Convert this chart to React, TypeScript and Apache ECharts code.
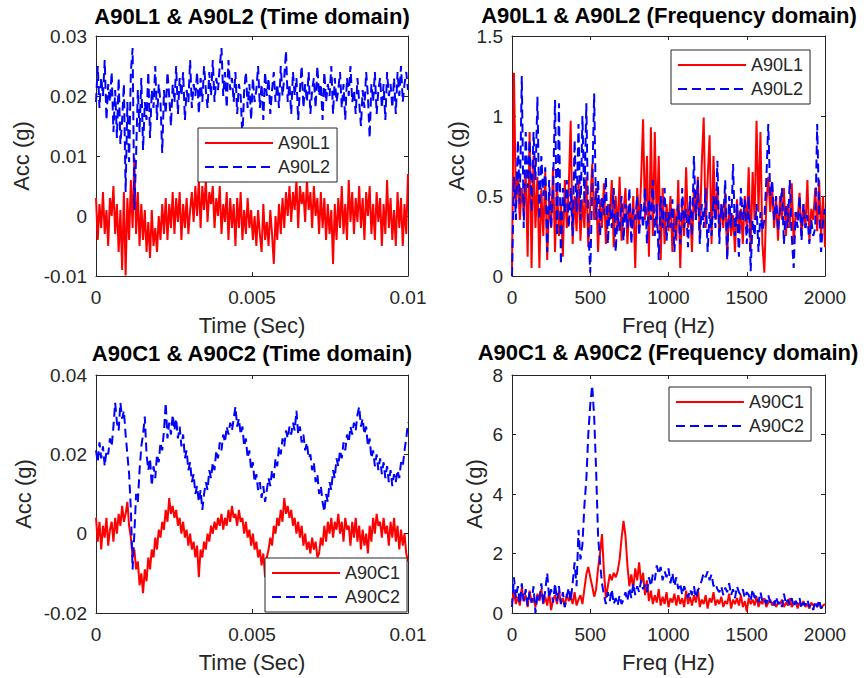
import React, { useEffect, useRef } from "react";
import * as echarts from "echarts";

// ---------- data ----------
const TIME_END = 0.01; // s
const FREQ_END = 2000; // Hz

const a90l1Time = [
  0.003, -0.004, 0.002, -0.002, 0.004, -0.003, 0.001, -0.005, 0.003, 0.0,
  0.005, -0.003, 0.002, -0.006, 0.001, -0.009, 0.004, -0.0099, 0.003, -0.004,
  0.006, -0.002, 0.0097, -0.003, 0.004, -0.005, 0.002, -0.004, 0.001, -0.006,
  -0.001, -0.007, 0.001, -0.005, -0.002, -0.006, 0.0, -0.004, 0.002, -0.003,
  0.003, -0.004, 0.002, -0.002, 0.004, -0.003, 0.003, -0.001, 0.004, -0.004,
  0.002, -0.002, 0.003, -0.003, 0.001, 0.004, -0.001, 0.005, 0.0, 0.006,
  -0.002, 0.005, 0.001, 0.006, -0.001, 0.004, 0.002, 0.005, -0.002, 0.003,
  0.0, 0.005, -0.003, 0.002, -0.001, 0.004, -0.004, 0.003, -0.002, 0.002,
  -0.005, 0.003, -0.002, 0.004, -0.004, 0.001, -0.003, 0.003, -0.002, 0.001,
  -0.004, 0.0, -0.005, 0.001, -0.003, -0.006, 0.002, -0.004, -0.001, -0.005,
  0.001, -0.003, -0.008, 0.0, -0.004, 0.002, -0.003, 0.003, -0.002, 0.004,
  0.0, 0.005, -0.001, 0.004, 0.001, 0.006, -0.002, 0.005, 0.002, 0.004,
  -0.001, 0.006, 0.001, 0.004, -0.002, 0.005, 0.0, 0.003, -0.003, 0.004,
  -0.002, 0.003, -0.004, 0.002, -0.003, 0.001, -0.008, 0.002, -0.004, 0.003,
  -0.002, 0.005, -0.003, 0.002, -0.004, 0.006, -0.001, 0.004, -0.003, 0.003,
  -0.001, 0.005, -0.002, 0.003, -0.004, 0.004, 0.0, 0.005, -0.003, 0.002,
  -0.004, 0.004, -0.001, 0.003, -0.005, 0.002, -0.003, 0.006, -0.002, 0.003,
  -0.004, 0.001, -0.005, 0.004, -0.002, 0.003, -0.005, 0.002, -0.003, 0.007,
];

const a90l2Time = [
  0.019, 0.025, 0.018, 0.023, 0.02, 0.026, 0.016, 0.022, 0.019, 0.024,
  0.014, 0.021, 0.013, 0.023, 0.012, 0.016, 0.022, 0.004, 0.019, 0.009,
  0.024, 0.028, 0.001, 0.01, 0.021, 0.014, 0.023, 0.011, 0.019, 0.016,
  0.024, 0.013, 0.021, 0.018, 0.025, 0.016, 0.022, 0.019, 0.0105, 0.021,
  0.017, 0.024, 0.02, 0.015, 0.022, 0.019, 0.025, 0.017, 0.023, 0.02,
  0.024, 0.016, 0.021, 0.019, 0.026, 0.018, 0.022, 0.02, 0.024, 0.017,
  0.023, 0.019, 0.025, 0.021, 0.018, 0.024, 0.02, 0.026, 0.019, 0.023,
  0.021, 0.025, 0.028, 0.02, 0.024, 0.018, 0.026, 0.021, 0.023, 0.019,
  0.024, 0.017, 0.022, 0.02, 0.013, 0.021, 0.024, 0.018, 0.022, 0.016,
  0.023, 0.019, 0.021, 0.025, 0.018, 0.022, 0.016, 0.024, 0.02, 0.023,
  0.017, 0.021, 0.024, 0.019, 0.022, 0.018, 0.025, 0.02, 0.023, 0.0275,
  0.019, 0.022, 0.017, 0.024, 0.02, 0.023, 0.016, 0.021, 0.025, 0.018,
  0.022, 0.019, 0.024, 0.017, 0.021, 0.023, 0.018, 0.025, 0.02, 0.022,
  0.016, 0.024, 0.019, 0.022, 0.02, 0.025, 0.017, 0.023, 0.019, 0.021,
  0.024, 0.018, 0.022, 0.016, 0.023, 0.02, 0.025, 0.019, 0.021, 0.017,
  0.023, 0.019, 0.015, 0.021, 0.018, 0.024, 0.02, 0.013, 0.022, 0.019,
  0.024, 0.017, 0.021, 0.023, 0.018, 0.022, 0.016, 0.024, 0.02, 0.022,
  0.018, 0.023, 0.017, 0.024, 0.02, 0.025, 0.019, 0.022, 0.024, 0.021,
];

const a90c1Time = [
  0.004, -0.002, 0.003, -0.004, 0.002, -0.001, 0.004, -0.003, 0.001, 0.003,
  -0.002, 0.004, 0.0, 0.005, 0.002, 0.007, 0.003, 0.005, 0.008, 0.002,
  -0.001, -0.006, -0.004, -0.009, -0.007, -0.013, -0.01, -0.015, -0.009, -0.012,
  -0.006, -0.009, -0.004, -0.006, -0.001, -0.004, 0.001, -0.001, 0.003, 0.001,
  0.006, 0.003, 0.009, 0.005, 0.007, 0.004, 0.006, 0.002, 0.004, 0.0,
  0.003, -0.001, 0.001, -0.003, 0.0, -0.004, -0.002, -0.006, -0.003, -0.011,
  -0.004, -0.006, -0.002, -0.004, 0.0, -0.002, 0.002, 0.0, 0.003, 0.001,
  0.004, 0.002, 0.005, 0.001, 0.004, 0.002, 0.006, 0.003, 0.007, 0.004,
  0.005, 0.002, 0.006, 0.003, 0.004, 0.0, 0.003, -0.001, 0.001, -0.003,
  0.0, -0.004, -0.002, -0.006, -0.004, -0.008, -0.005, -0.011, -0.006, -0.004,
  -0.001, -0.003, 0.002, 0.0, 0.004, 0.002, 0.006, 0.003, 0.009, 0.005,
  0.007, 0.004, 0.006, 0.002, 0.004, 0.0, 0.003, -0.001, 0.002, -0.003,
  0.0, -0.004, -0.002, -0.005, -0.001, -0.004, -0.002, -0.006, -0.005, -0.001,
  -0.003, 0.002, -0.002, 0.003, 0.0, 0.004, -0.001, 0.003, 0.001, 0.005,
  0.0, 0.003, -0.002, 0.004, 0.001, 0.002, -0.003, 0.003, -0.001, 0.004,
  -0.002, 0.002, -0.004, 0.001, -0.003, 0.0, -0.005, 0.002, -0.002, 0.004,
  0.0, 0.005, 0.002, 0.003, -0.001, 0.004, 0.0, 0.002, -0.003, 0.003,
  -0.001, 0.004, -0.002, 0.002, -0.004, 0.001, -0.003, 0.0, -0.005, -0.007,
];

const a90c2Time = [
  0.021, 0.018, 0.023, 0.019, 0.022, 0.017, 0.021, 0.02, 0.024, 0.022,
  0.027, 0.033, 0.028, 0.026, 0.033, 0.029, 0.031, 0.025, 0.02, 0.015,
  0.006, -0.009, 0.0, 0.01, 0.008, 0.016, 0.022, 0.025, 0.0295, 0.02,
  0.016, 0.019, 0.012, 0.017, 0.014, 0.02, 0.018, 0.023, 0.021, 0.026,
  0.033, 0.024, 0.028, 0.025, 0.03, 0.026, 0.029, 0.024, 0.027, 0.022,
  0.025, 0.019, 0.021, 0.016, 0.018, 0.013, 0.015, 0.01, 0.012, 0.008,
  0.011, 0.006, 0.01, 0.013, 0.011, 0.016, 0.014, 0.018, 0.016, 0.021,
  0.019, 0.023, 0.021, 0.025, 0.023, 0.027, 0.025, 0.028, 0.026, 0.029,
  0.032, 0.027, 0.029, 0.025, 0.027, 0.022, 0.024, 0.019, 0.021, 0.016,
  0.018, 0.013, 0.015, 0.011, 0.013, 0.009, 0.012, 0.008, 0.011, 0.014,
  0.012, 0.016, 0.014, 0.019, 0.017, 0.022, 0.02, 0.024, 0.022, 0.026,
  0.024, 0.027, 0.025, 0.028, 0.026, 0.031, 0.025, 0.027, 0.023, 0.025,
  0.021, 0.023, 0.019, 0.02, 0.016, 0.018, 0.013, 0.015, 0.01, 0.012,
  0.008, 0.0055, 0.01, 0.008, 0.013, 0.011, 0.016, 0.014, 0.019, 0.017,
  0.021, 0.019, 0.023, 0.021, 0.025, 0.023, 0.027, 0.025, 0.028, 0.026,
  0.03, 0.032, 0.027, 0.029, 0.025, 0.027, 0.022, 0.024, 0.019, 0.021,
  0.017, 0.02, 0.016, 0.019, 0.015, 0.018, 0.014, 0.017, 0.013, 0.016,
  0.012, 0.015, 0.013, 0.016, 0.014, 0.018, 0.017, 0.021, 0.024, 0.028,
];

const a90l1Freq = [
  0.05, 1.27, 0.45, 0.62, 0.35, 0.55, 0.4, 0.65, 0.12, 0.9,
  0.05, 0.75, 0.3, 0.62, 0.05, 0.55, 0.25, 0.65, 0.1, 0.5,
  0.3, 0.68, 0.15, 0.58, 0.25, 0.45, 0.12, 0.6, 0.3, 0.55,
  0.97, 0.2, 0.5, 0.28, 0.6, 0.22, 0.48, 0.3, 0.62, 0.18,
  0.45, 0.7, 0.35, 0.55, 0.15, 0.48, 0.3, 0.58, 0.2, 0.45,
  0.35, 0.6, 0.18, 0.5, 0.28, 0.62, 0.22, 0.4, 0.55, 0.2,
  0.45, 0.3, 0.5, 0.05, 0.55, 0.3, 0.6, 0.98, 0.35, 0.75,
  0.12, 0.93, 0.25, 0.9, 0.3, 0.75, 0.1, 0.55, 0.2, 0.45,
  0.28, 0.5, 0.15, 0.42, 0.22, 0.6, 0.05, 0.45, 0.25, 0.68,
  0.3, 0.45, 0.15, 0.55, 0.35, 0.62, 0.25, 0.7, 0.99, 0.3,
  0.6, 0.88, 0.2, 0.75, 0.35, 0.55, 0.25, 0.45, 0.3, 0.52,
  0.12, 0.45, 0.25, 0.38, 0.15, 0.48, 0.28, 0.42, 0.2, 0.5,
  0.3, 0.68, 0.15, 0.65, 0.35, 0.97, 0.4, 0.9, 0.2, 0.02,
  0.45, 0.62, 0.4, 0.55, 0.3, 0.48, 0.22, 0.5, 0.35, 0.55,
  0.25, 0.45, 0.3, 0.58, 0.2, 0.4, 0.35, 0.52, 0.25, 0.45,
  0.3, 0.6, 0.22, 0.42, 0.35, 0.55, 0.28, 0.6, 0.25, 0.5,
  0.18,
];

const a90l2Freq = [
  0.0, 0.62, 0.35, 0.85, 0.45, 1.25, 0.3, 0.9, 0.55, 0.85,
  0.4, 0.9, 0.6, 1.12, 0.35, 0.75, 0.5, 0.68, 0.15, 0.6,
  0.3, 0.55, 1.1, 0.25, 1.08, 0.07, 0.55, 0.4, 0.6, 0.3,
  0.55, 0.25, 0.85, 0.4, 0.95, 0.35, 1.0, 0.45, 1.08, 0.3,
  0.02, 0.55, 1.14, 0.35, 0.6, 0.25, 0.5, 0.38, 0.62, 0.2,
  0.45, 0.3, 0.55, 0.15, 0.4, 0.28, 0.5, 0.22, 0.45, 0.3,
  0.55, 0.2, 0.42, 0.35, 0.5, 0.25, 0.45, 0.3, 0.55, 0.2,
  0.48, 0.35, 0.6, 0.25, 0.45, 0.1, 0.5, 0.3, 0.55, 0.22,
  0.4, 0.3, 0.48, 0.15, 0.35, 0.45, 0.2, 0.55, 0.3, 0.42,
  0.18, 0.5, 0.25, 0.75, 0.35, 0.6, 0.2, 0.45, 0.3, 0.55,
  0.15, 0.4, 0.25, 0.5, 0.3, 0.72, 0.2, 0.45, 0.35, 0.6,
  0.1, 0.5, 0.3, 0.7, 0.25, 0.45, 0.12, 0.55, 0.35, 0.48,
  0.2, 0.5, 0.03, 0.35, 0.25, 0.45, 0.15, 0.4, 0.28, 0.35,
  0.6, 0.95, 0.5, 0.6, 0.35, 0.5, 0.28, 0.42, 0.55, 0.2,
  0.45, 0.3, 0.6, 0.25, 0.05, 0.4, 0.3, 0.5, 0.22, 0.45,
  0.3, 0.38, 0.2, 0.35, 0.25, 0.3, 0.95, 0.4, 0.15, 0.35,
  0.42,
];

const a90c1Freq = [
  0.35, 0.7, 0.3, 0.55, 0.25, 0.85, 0.4, 0.6, 0.2, 0.75,
  0.35, 0.5, 0.2, 0.65, 0.4, 0.8, 0.3, 0.55, 0.25, 0.7,
  0.1, 0.45, 0.6, 0.3, 0.75, 0.35, 0.5, 0.2, 0.65, 0.4,
  0.55, 0.3, 0.7, 0.25, 0.45, 0.6, 0.3, 0.8, 1.3, 1.55,
  1.2, 0.9, 0.55, 0.8, 1.5, 2.0, 2.65, 1.4, 0.5, 0.9,
  1.3, 1.1, 1.35, 1.2, 1.4, 1.8, 2.5, 3.1, 2.6, 1.6,
  0.9, 1.3, 0.8, 1.5, 1.1, 1.7, 1.0, 1.35, 0.6, 1.1,
  0.4, 0.75, 0.3, 0.6, 0.35, 0.8, 0.25, 0.55, 0.3, 0.7,
  0.2, 0.5, 0.35, 0.65, 0.25, 0.6, 0.3, 0.5, 0.2, 0.75,
  0.3, 0.55, 0.25, 0.6, 0.35, 0.8, 0.2, 0.45, 0.3, 0.6,
  0.15, 0.5, 0.35, 0.7, 0.25, 0.45, 0.3, 0.55, 0.2, 0.4,
  0.3, 0.65, 0.15, 0.45, 0.3, 0.5, 0.25, 0.6, 0.2, 0.4,
  0.05, 0.5, 0.3, 0.45, 0.25, 0.55, 0.2, 0.4, 0.3, 0.5,
  0.2, 0.35, 0.45, 0.25, 0.4, 0.2, 0.35, 0.3, 0.45, 0.2,
  0.35, 0.25, 0.5, 0.2, 0.3, 0.4, 0.15, 0.35, 0.25, 0.4,
  0.2, 0.3, 0.15, 0.35, 0.25, 0.3, 0.2, 0.35, 0.15, 0.25,
  0.3,
];

const a90c2Freq = [
  0.2, 1.2, 0.5, 0.9, 0.3, 1.0, 0.4, 0.8, 0.25, 0.7,
  0.35, 0.9, 0.0, 0.6, 0.45, 1.0, 0.3, 0.75, 1.35, 0.5,
  0.8, 0.35, 1.0, 0.4, 0.9, 0.3, 0.7, 0.2, 0.55, 0.85,
  0.4, 1.0, 1.7, 0.9, 2.8, 1.8, 2.3, 3.6, 4.5, 6.0,
  7.0, 7.65, 6.6, 4.8, 2.6, 1.7, 1.0, 0.6, 0.3, 0.7,
  0.4, 0.8, 0.3, 0.5, 0.25, 0.6, 0.3, 0.45, 0.7, 0.4,
  0.85, 0.5, 1.0, 0.6, 0.9, 0.7, 1.1, 0.8, 0.95, 0.7,
  1.2, 0.9, 1.3, 1.1, 1.6, 1.3, 1.55, 1.1, 1.4, 1.2,
  1.5, 1.0, 1.35, 0.9, 1.2, 0.8, 1.0, 0.6, 0.9, 0.7,
  0.5, 0.8, 0.6, 0.9, 0.5, 0.75, 0.9, 1.1, 1.35, 1.2,
  1.4, 1.1, 1.3, 0.9, 1.0, 0.8, 0.7, 0.9, 0.6, 0.85,
  0.7, 1.0, 0.6, 0.8, 0.5, 0.9, 0.7, 0.6, 0.8, 0.5,
  0.7, 0.6, 0.4, 0.8, 0.5, 0.6, 0.35, 0.7, 0.4, 0.5,
  0.3, 0.6, 0.35, 0.45, 0.25, 0.55, 0.3, 0.4, 0.2, 0.65,
  0.3, 0.45, 0.25, 0.5, 0.2, 0.4, 0.3, 0.5, 0.15, 0.35,
  0.25, 0.45, 0.2, 0.3, 0.1, 0.4, 0.2, 0.45, 0.15, 0.3,
  0.35,
];

const titles = [
  "A90L1 & A90L2 (Time domain)",
  "A90L1 & A90L2 (Frequency domain)",
  "A90C1 & A90C2 (Time domain)",
  "A90C1 & A90C2 (Frequency domain)",
];
const legendNames = [
  ["A90L1", "A90L2"],
  ["A90L1", "A90L2"],
  ["A90C1", "A90C2"],
  ["A90C1", "A90C2"],
];
const xNames = ["Time (Sec)", "Freq (Hz)", "Time (Sec)", "Freq (Hz)"];
const yName = "Acc (g)";

// ---------- helpers ----------
function toPairs(vals: number[], end: number): number[][] {
  const step = end / (vals.length - 1);
  return vals.map((v, i) => [i * step, v]);
}

const FONT = '"Liberation Sans", Arial, Helvetica, sans-serif';
const AX = "#262626";
const RED = "#ff0000";
const BLUE = "#0000ff";
const DASH = [9, 5];

const grids = [
  { left: 96, top: 36, width: 312, height: 240 },
  { left: 512, top: 36, width: 313, height: 240 },
  { left: 96, top: 375, width: 312, height: 238 },
  { left: 512, top: 375, width: 313, height: 238 },
];

const xRanges = [
  { min: 0, max: TIME_END, interval: 0.005 },
  { min: 0, max: FREQ_END, interval: 500 },
  { min: 0, max: TIME_END, interval: 0.005 },
  { min: 0, max: FREQ_END, interval: 500 },
];
const yRanges = [
  { min: -0.01, max: 0.03, interval: 0.01 },
  { min: 0, max: 1.5, interval: 0.5 },
  { min: -0.02, max: 0.04, interval: 0.02 },
  { min: 0, max: 8, interval: 2 },
];
const yNameGaps = [64, 45, 62, 27];
const legendPos = [
  { left: 198, top: 128 },
  { left: 671, top: 50 },
  { left: 265, top: 558 },
  { left: 669, top: 387 },
];
const titlePos = [
  { x: 252, y: 16 },
  { x: 669, y: 15 },
  { x: 252, y: 353 },
  { x: 668, y: 352 },
];

const plainNum = (v: number) => String(Math.round(v * 1e6) / 1e6);

export default function App() {
  const ref = useRef<HTMLDivElement>(null);
  useEffect(() => {
    if (!ref.current) return;
    const chart = echarts.init(ref.current, undefined, { renderer: "svg" });

    const xAxis: any[] = [];
    const yAxis: any[] = [];
    grids.forEach((_, i) => {
      const tick = { show: true, inside: true, length: 4, lineStyle: { color: AX, width: 1 } };
      const line = { show: true, onZero: false, lineStyle: { color: AX, width: 1 } };
      xAxis.push({
        type: "value", gridIndex: i, position: "bottom", ...xRanges[i],
        axisLine: line, axisTick: tick, splitLine: { show: false },
        axisLabel: { color: AX, fontSize: 19, fontFamily: FONT, margin: 12, formatter: plainNum },
        name: xNames[i], nameLocation: "middle", nameGap: 38,
        nameTextStyle: { color: AX, fontSize: 22, fontFamily: FONT },
      });
      xAxis.push({
        type: "value", gridIndex: i, position: "top", ...xRanges[i],
        axisLine: line, axisTick: tick, splitLine: { show: false },
        axisLabel: { show: false },
      });
      yAxis.push({
        type: "value", gridIndex: i, position: "left", ...yRanges[i],
        axisLine: line, axisTick: tick, splitLine: { show: false },
        axisLabel: { color: AX, fontSize: 19, fontFamily: FONT, margin: 9, formatter: plainNum },
        name: yName, nameLocation: "middle", nameGap: yNameGaps[i], nameRotate: 90,
        nameTextStyle: { color: AX, fontSize: 22, fontFamily: FONT },
      });
      yAxis.push({
        type: "value", gridIndex: i, position: "right", ...yRanges[i],
        axisLine: line, axisTick: tick, splitLine: { show: false },
        axisLabel: { show: false },
      });
    });

    const sets = [
      [a90l1Time, a90l2Time, TIME_END],
      [a90l1Freq, a90l2Freq, FREQ_END],
      [a90c1Time, a90c2Time, TIME_END],
      [a90c1Freq, a90c2Freq, FREQ_END],
    ] as [number[], number[], number][];

    const series: any[] = [];
    sets.forEach(([s1, s2, end], i) => {
      series.push({
        type: "line", name: legendNames[i][0], xAxisIndex: 2 * i, yAxisIndex: 2 * i,
        data: toPairs(s1, end), symbol: "none", clip: true,
        lineStyle: { color: RED, width: 2 }, itemStyle: { color: RED },
      });
      series.push({
        type: "line", name: legendNames[i][1], xAxisIndex: 2 * i, yAxisIndex: 2 * i,
        data: toPairs(s2, end), symbol: "none", clip: true,
        lineStyle: { color: BLUE, width: 2, type: DASH }, itemStyle: { color: BLUE },
      });
    });

    const legend = legendPos.map((p, i) => ({
      ...p, orient: "vertical", data: legendNames[i], selectedMode: false,
      backgroundColor: "#ffffff", borderColor: AX, borderWidth: 1, borderRadius: 0,
      padding: [6, 7, 6, 6], itemWidth: 68, itemHeight: 14, itemGap: 6, itemTextGap: 5,
      itemStyle: { opacity: 0 },
      textStyle: { color: AX, fontSize: 18, fontFamily: FONT },
      z: 10,
    }));

    const graphic = titles.map((t, i) => ({
      type: "text", x: titlePos[i].x, y: titlePos[i].y, z: 100,
      style: {
        text: t, fill: "#000", font: `bold 22px ${FONT}`,
        textAlign: "center", textVerticalAlign: "middle", align: "center", verticalAlign: "middle",
      },
    }));

    chart.setOption({
      animation: false,
      backgroundColor: "#ffffff",
      grid: grids.map((g) => ({ ...g, containLabel: false, show: false })),
      xAxis, yAxis, series, legend, graphic,
    });
    return () => chart.dispose();
  }, []);
  return (
    <div
      ref={ref}
      style={{ position: "absolute", left: 0, top: 0, width: 866, height: 678 }}
    />
  );
}
